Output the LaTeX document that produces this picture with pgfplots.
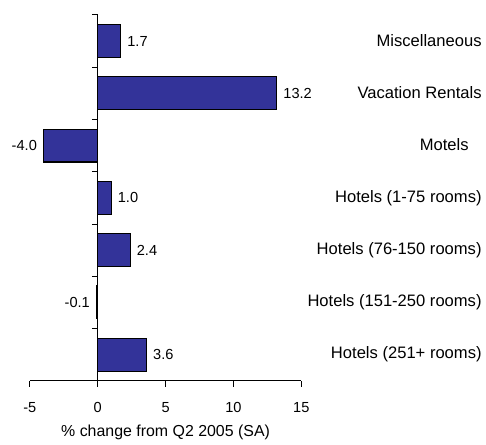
\documentclass[border=0pt]{standalone}
\usepackage{pgfplots}
\pgfplotsset{compat=1.18}
\usepackage{fontspec}
\setmainfont{Liberation Sans}
\definecolor{barblue}{HTML}{333399}
\begin{document}
\begin{tikzpicture}
\begin{axis}[
  scale only axis, width=204.75pt, height=276pt,
  xbar, bar width=0.63,
  xmin=-5, xmax=15, ymin=-0.5, ymax=6.5,
  clip=false,
  axis x line*=bottom, axis y line*=middle,
  hide obscured x ticks=false, hide obscured y ticks=false,
  axis line style={black, line width=0.6pt},
  tick style={black, line width=0.6pt},
  tick align=outside,
  xtick={-5,0,5,10,15},
  ytick={-0.5,0.5,...,6.5},
  yticklabels={},
  major tick length=4.5pt,
  /pgf/number format/assume math mode=true,
  ticklabel style={font=\fontsize{11}{13}\selectfont},
  xticklabel style={yshift=-8pt},
  xlabel={\% change from Q2 2005 (SA)},
  xlabel style={font=\fontsize{12}{14}\selectfont, yshift=-2.5pt},
  nodes near coords={\pgfmathprintnumber[fixed,fixed zerofill,precision=1]{\pgfplotspointmeta}},
  nodes near coords align={horizontal},
  every node near coord/.append style={font=\fontsize{11}{13}\selectfont, inner sep=4.5pt, text=black},
]
\addplot[fill=barblue, draw=black, line width=0.9pt] coordinates {(3.6,0) (-0.1,1) (2.4,2) (1.0,3) (-4.0,4) (13.2,5) (1.7,6)};
\path (axis cs:-7.2,6.785) (axis cs:28.41,-1.584);
\end{axis}
\begin{axis}[
  scale only axis, width=204.75pt, height=276pt,
  xmin=-5, xmax=15, ymin=-0.5, ymax=6.5,
  axis x line=none, axis y line*=right,
  y axis line style={draw=none},
  ytick={0,...,6},
  yticklabels={\raisebox{2.5pt}{Hotels (251+ rooms)}, \raisebox{-4.4pt}{Hotels (151-250 rooms)}, \raisebox{0.7pt}{Hotels (76-150 rooms)}, \raisebox{-2.8pt}{Hotels (1-75 rooms)}, \raisebox{2.3pt}{Motels\hspace{9.75pt}}, \raisebox{1.6pt}{Vacation Rentals}, \raisebox{-2pt}{Miscellaneous}},
  major tick length=0pt,
  yticklabel style={anchor=east, xshift=139.5pt, font=\fontsize{12.5}{15}\selectfont},
]
\end{axis}
\end{tikzpicture}
\end{document}
